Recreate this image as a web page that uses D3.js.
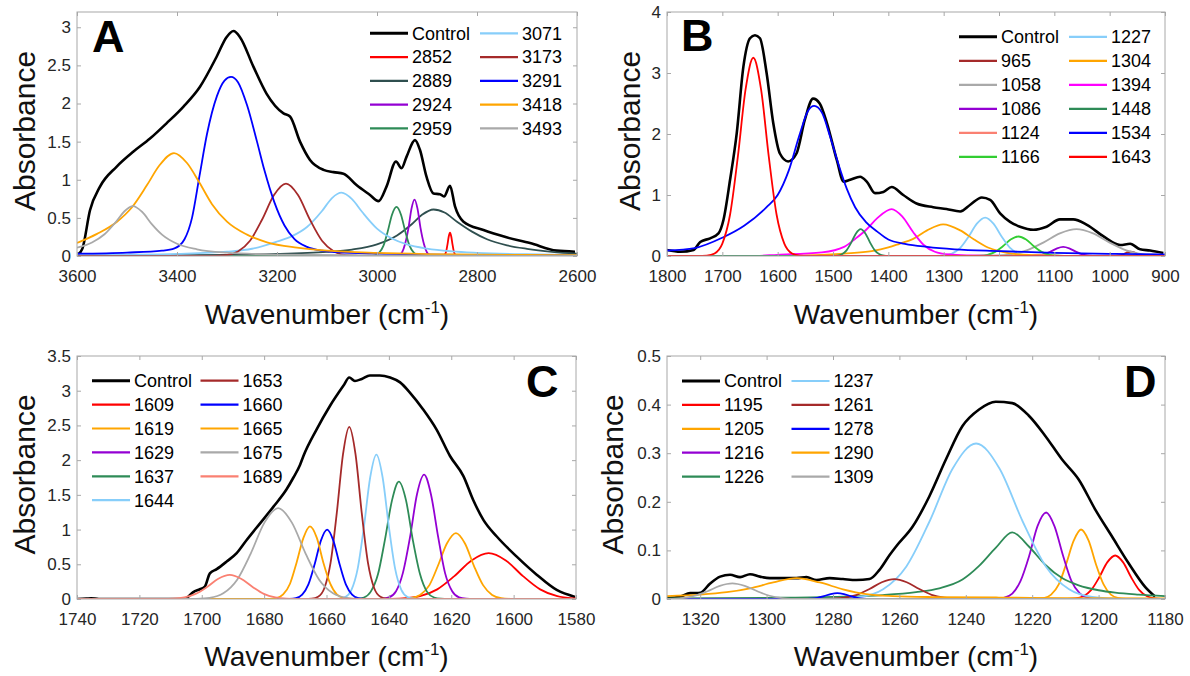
<!DOCTYPE html>
<html>
<head>
<meta charset="utf-8">
<script src="https://cdn.jsdelivr.net/npm/d3@7"></script>
<style>
  body { margin: 0; background: #fff; }
  svg { font-family: "Liberation Sans", Arial, Helvetica, sans-serif; }
</style>
</head>
<body>
<svg id="chart" width="1190" height="676"></svg>
<script>
// ---------- Panel A (3600-2600 cm-1) ----------
const xTicksA = [3600, 3400, 3200, 3000, 2800, 2600];
const yTicksA = [0, 0.5, 1, 1.5, 2, 2.5, 3];
const peaksA = ["2852", "2889", "2924", "2959", "3071", "3173", "3291", "3418", "3493"];
const controlA = [[3598,0.02],[3589,0.1],[3574,0.6],[3554,0.91],[3521,1.17],[3487,1.37],[3454,1.54],[3421,1.74],[3387,1.96],[3354,2.22],[3321,2.61],[3301,2.87],[3287,2.95],[3274,2.87],[3247,2.48],[3221,2.13],[3187,1.87],[3174,1.83],[3154,1.5],[3134,1.26],[3107,1.13],[3087,1.1],[3067,1.08],[3041,0.93],[3014,0.8],[2997,0.72],[2981,0.91],[2962,1.24],[2951,1.15],[2941,1.3],[2924,1.52],[2914,1.39],[2901,1.04],[2887,0.82],[2874,0.81],[2866,0.78],[2854,0.92],[2844,0.65],[2827,0.45],[2787,0.34],[2741,0.245],[2694,0.17],[2641,0.07],[2604,0.056]];
const componentsA = [
  [[3600,0],[2870,0],[2866.5,0.004],[2864,0.019],[2861.5,0.064],[2859,0.153],[2856.5,0.256],[2854,0.305],[2851.5,0.256],[2849,0.153],[2846.5,0.064],[2844,0.019],[2841.5,0.004],[2838,0],[2600,0]],
  [[3600,0.005],[3400,0.01],[3200,0.026],[3100,0.053],[3050,0.085],[3000,0.153],[2960,0.27],[2930,0.42],[2910,0.54],[2887,0.61],[2865,0.57],[2840,0.45],[2810,0.32],[2780,0.22],[2740,0.14],[2700,0.094],[2650,0.055],[2600,0.03]],
  [[3600,0],[2965,0],[2962,0.0015],[2956,0.0096],[2950,0.046],[2944,0.155],[2937,0.37],[2931,0.622],[2925,0.74],[2919,0.622],[2913,0.37],[2906,0.155],[2900,0.046],[2894,0.0096],[2888,0.0015],[2885,0],[2600,0]],
  [[3600,0],[3015,0],[3013,0.0013],[3005,0.0084],[2996,0.04],[2987,0.135],[2978.5,0.323],[2970,0.542],[2961,0.645],[2952,0.542],[2943.5,0.323],[2935,0.135],[2926,0.04],[2917,0.0084],[2908,0.0013],[2905,0],[2600,0]],
  [[3600,0.011],[3500,0.017],[3400,0.028],[3300,0.057],[3250,0.095],[3200,0.19],[3170,0.26],[3140,0.38],[3110,0.59],[3090,0.76],[3071,0.83],[3050,0.745],[3030,0.58],[3000,0.36],[2970,0.23],[2940,0.152],[2900,0.097],[2850,0.061],[2800,0.042],[2700,0.023],[2600,0.014]],
  [[3600,0],[3330,0],[3326,0.002],[3302,0.012],[3278,0.06],[3254,0.2],[3230,0.475],[3206,0.8],[3182,0.95],[3158,0.8],[3134,0.475],[3110,0.2],[3086,0.06],[3062,0.012],[3038,0.002],[3030,0],[2600,0]],
  [[3600,0.03],[3500,0.045],[3430,0.07],[3405,0.1],[3385,0.22],[3370,0.5],[3355,1.05],[3340,1.6],[3320,2.1],[3305,2.3],[3292,2.35],[3278,2.28],[3260,1.98],[3240,1.5],[3225,1.12],[3205,0.7],[3185,0.4],[3165,0.22],[3140,0.12],[3110,0.07],[3080,0.05],[3000,0.03],[2800,0.012],[2600,0.005]],
  [[3600,0.17],[3560,0.29],[3520,0.45],[3490,0.64],[3460,0.93],[3435,1.19],[3406,1.35],[3380,1.22],[3355,0.96],[3330,0.68],[3300,0.45],[3260,0.28],[3220,0.18],[3160,0.11],[3100,0.07],[3000,0.04],[2900,0.025],[2800,0.018],[2700,0.013],[2600,0.01]],
  [[3600,0.109],[3570,0.178],[3545,0.285],[3520,0.465],[3505,0.587],[3488,0.655],[3470,0.58],[3450,0.415],[3430,0.28],[3400,0.16],[3360,0.087],[3300,0.043],[3200,0.019],[3000,0.007],[2800,0.003],[2600,0.002]]
];

// ---------- Panel B (1800-900 cm-1) ----------
const xTicksB = [1800, 1700, 1600, 1500, 1400, 1300, 1200, 1100, 1000, 900];
const yTicksB = [0, 1, 2, 3, 4];
const peaksB = ["965", "1058", "1086", "1124", "1166", "1227", "1304", "1394", "1448", "1534", "1643"];
const controlB = [[1800,0.1],[1776,0.07],[1752,0.1],[1740,0.23],[1722,0.29],[1707,0.37],[1698,0.59],[1686,1.25],[1674,2.01],[1662,3.1],[1650,3.57],[1641,3.62],[1632,3.57],[1620,3.0],[1608,2.18],[1596,1.68],[1581,1.55],[1566,1.68],[1551,2.23],[1536,2.58],[1524,2.5],[1511,2.18],[1493,1.57],[1481,1.22],[1469,1.25],[1451,1.3],[1439,1.22],[1424,1.03],[1409,1.05],[1394,1.13],[1373,1.0],[1349,0.86],[1319,0.8],[1295,0.77],[1270,0.73],[1252,0.84],[1231,0.96],[1216,0.92],[1198,0.7],[1180,0.56],[1162,0.48],[1138,0.43],[1114,0.48],[1090,0.6],[1066,0.6],[1041,0.51],[1011,0.32],[981,0.18],[963,0.2],[945,0.11],[927,0.09],[903,0.05]];
const componentsB = [
  [[1800,0],[1000,0],[992,0.0009],[986,0.0044],[980,0.0147],[974,0.035],[968,0.059],[962,0.07],[956,0.059],[950,0.035],[944,0.0147],[938,0.0044],[932,0.0009],[925,0],[900,0]],
  [[1800,0],[1250,0],[1240,0.0009],[1210,0.0057],[1180,0.0275],[1150,0.092],[1120,0.22],[1090,0.37],[1060,0.44],[1030,0.37],[1000,0.22],[970,0.092],[940,0.0275],[910,0.0057],[900,0.003]],
  [[1800,0],[1145,0],[1139,0.002],[1128,0.0094],[1117,0.0315],[1106,0.075],[1095,0.126],[1084,0.15],[1073,0.126],[1062,0.075],[1051,0.0315],[1040,0.0094],[1029,0.002],[1020,0],[900,0]],
  [[1800,0],[1175,0],[1164,0.0012],[1154,0.0042],[1144,0.01],[1134,0.017],[1124,0.02],[1114,0.017],[1104,0.01],[1094,0.0042],[1084,0.0012],[1075,0],[900,0]],
  [[1800,0],[1255,0],[1249,0.0006],[1235,0.0042],[1221,0.02],[1207,0.067],[1193,0.16],[1179,0.269],[1165,0.32],[1151,0.269],[1137,0.16],[1123,0.067],[1109,0.02],[1095,0.0042],[1081,0.0006],[1075,0],[900,0]],
  [[1800,0],[1320,0],[1315,0.0013],[1300,0.0082],[1285,0.039],[1270,0.132],[1255,0.315],[1240,0.53],[1225,0.63],[1210,0.53],[1195,0.315],[1180,0.132],[1165,0.039],[1150,0.0082],[1135,0.0013],[1130,0],[900,0]],
  [[1800,0],[1600,0.003],[1550,0.01],[1480,0.04],[1430,0.08],[1400,0.14],[1380,0.2],[1355,0.28],[1330,0.42],[1301,0.52],[1270,0.42],[1245,0.27],[1220,0.14],[1200,0.08],[1170,0.03],[1130,0.01],[1080,0.002],[1050,0],[900,0]],
  [[1800,0],[1650,0],[1600,0.02],[1520,0.06],[1480,0.15],[1460,0.28],[1440,0.43],[1420,0.62],[1394,0.77],[1375,0.65],[1355,0.39],[1336,0.18],[1316,0.07],[1290,0.025],[1250,0.008],[1200,0],[900,0]],
  [[1800,0],[1505,0],[1501,0.0009],[1492.5,0.0057],[1484,0.0275],[1475.5,0.092],[1467,0.22],[1458.5,0.37],[1450,0.44],[1441.5,0.37],[1433,0.22],[1424.5,0.092],[1416,0.0275],[1407.5,0.0057],[1399,0.0009],[1395,0],[900,0]],
  [[1800,0.09],[1750,0.13],[1700,0.3],[1660,0.5],[1620,0.8],[1600,1.0],[1580,1.4],[1560,2.0],[1545,2.38],[1534,2.46],[1520,2.35],[1505,1.95],[1490,1.5],[1475,1.1],[1460,0.8],[1440,0.55],[1420,0.4],[1400,0.27],[1370,0.2],[1330,0.15],[1280,0.11],[1200,0.08],[1100,0.05],[1000,0.035],[900,0.025]],
  [[1800,0],[1745,0],[1728,0.0065],[1714,0.042],[1700,0.203],[1686,0.68],[1672,1.625],[1658,2.73],[1644,3.25],[1630,2.73],[1616,1.625],[1602,0.68],[1588,0.203],[1574,0.042],[1560,0.0065],[1545,0],[900,0]]
];

// ---------- Panel C (1740-1580 cm-1) ----------
const xTicksC = [1740, 1720, 1700, 1680, 1660, 1640, 1620, 1600, 1580];
const yTicksC = [0, 0.5, 1, 1.5, 2, 2.5, 3, 3.5];
const peaksC = ["1609", "1619", "1629", "1637", "1644", "1653", "1660", "1665", "1675", "1689"];
const controlC = [[1740,0],[1737,0.005],[1735.5,0.01],[1733,0],[1705,0],[1704.8,0.01],[1702.7,0.1],[1700.6,0.14],[1699,0.18],[1697.4,0.37],[1695.2,0.43],[1692,0.54],[1688.8,0.66],[1685.6,0.85],[1681.3,1.09],[1677,1.33],[1672.8,1.58],[1670.6,1.75],[1668.5,1.93],[1667.4,2.06],[1663.2,2.44],[1658.9,2.78],[1654.6,3.07],[1652.7,3.19],[1650.9,3.14],[1648.7,3.17],[1646.1,3.22],[1642.9,3.22],[1639.6,3.19],[1636.4,3.12],[1633.2,2.97],[1629,2.73],[1624.7,2.44],[1620.4,2.06],[1616.1,1.77],[1613,1.43],[1609.7,1.14],[1605.4,0.9],[1599,0.61],[1592.6,0.35],[1586.2,0.13],[1580.3,0.03]];
const componentsC = [
  [[1740,0],[1645,0],[1641,0.0013],[1635.5,0.0086],[1630,0.041],[1624.5,0.139],[1619,0.33],[1613.5,0.555],[1608,0.66],[1602.5,0.555],[1597,0.33],[1591.5,0.139],[1586,0.041],[1580.5,0.0086],[1580,0.007]],
  [[1740,0],[1638,0],[1636,0.0019],[1633,0.0124],[1630,0.059],[1627,0.2],[1624.3,0.475],[1621.4,0.8],[1618.5,0.95],[1615.6,0.8],[1612.7,0.475],[1609.8,0.2],[1606.9,0.059],[1604,0.0124],[1601,0.0019],[1599,0],[1580,0]],
  [[1740,0],[1644,0],[1642.2,0.0036],[1640,0.023],[1637.7,0.112],[1635.5,0.376],[1633.2,0.895],[1631,1.505],[1628.7,1.79],[1626.5,1.505],[1624.2,0.895],[1622,0.376],[1619.7,0.112],[1617.5,0.023],[1615.2,0.0036],[1613,0],[1580,0]],
  [[1740,0],[1652,0],[1650.3,0.0034],[1648,0.022],[1645.8,0.106],[1643.5,0.355],[1641.3,0.845],[1639,1.42],[1636.8,1.69],[1634.5,1.42],[1632.3,0.845],[1630,0.355],[1627.8,0.106],[1625.5,0.022],[1623.3,0.0034],[1621,0],[1580,0]],
  [[1740,0],[1658,0],[1656,0.004],[1654,0.027],[1652,0.13],[1650,0.437],[1648,1.04],[1646,1.75],[1644,2.08],[1642,1.75],[1640,1.04],[1638,0.437],[1636,0.13],[1634,0.027],[1632,0.004],[1630,0],[1580,0]],
  [[1740,0],[1667,0],[1664.7,0.005],[1662.7,0.032],[1660.7,0.155],[1658.7,0.52],[1656.7,1.24],[1654.7,2.086],[1652.7,2.48],[1650.7,2.086],[1648.7,1.24],[1646.7,0.52],[1644.7,0.155],[1642.7,0.032],[1640.7,0.005],[1638,0],[1580,0]],
  [[1740,0],[1674,0],[1671.8,0.002],[1669.8,0.013],[1667.8,0.0625],[1665.8,0.21],[1663.8,0.5],[1661.8,0.841],[1659.8,1.0],[1657.8,0.841],[1655.8,0.5],[1653.8,0.21],[1651.8,0.0625],[1649.8,0.013],[1647.8,0.002],[1645,0],[1580,0]],
  [[1740,0],[1681,0],[1678.2,0.002],[1676,0.0136],[1673.9,0.065],[1671.7,0.22],[1669.6,0.523],[1667.4,0.88],[1665.3,1.046],[1663.1,0.88],[1661,0.523],[1658.8,0.22],[1656.7,0.065],[1654.5,0.0136],[1652.4,0.002],[1650,0],[1580,0]],
  [[1740,0],[1705,0],[1701.9,0.0026],[1697.5,0.017],[1693.1,0.082],[1688.7,0.275],[1684.3,0.655],[1679.9,1.1],[1675.5,1.31],[1671.1,1.1],[1666.7,0.655],[1662.3,0.275],[1657.9,0.082],[1653.5,0.017],[1649.1,0.0026],[1645,0],[1580,0]],
  [[1740,0],[1715,0],[1712.9,0.0007],[1709.3,0.0045],[1705.6,0.0217],[1702,0.073],[1698.3,0.174],[1694.7,0.292],[1691,0.347],[1687.4,0.292],[1683.7,0.174],[1680.1,0.073],[1676.4,0.0217],[1672.8,0.0045],[1669.1,0.0007],[1665,0],[1580,0]]
];

// ---------- Panel D (1330-1180 cm-1) ----------
const xTicksD = [1320, 1300, 1280, 1260, 1240, 1220, 1200, 1180];
const yTicksD = [0, 0.1, 0.2, 0.3, 0.4, 0.5];
const peaksD = ["1195", "1205", "1216", "1226", "1237", "1261", "1278", "1290", "1309"];
const controlD = [[1330,0.0015],[1326,0.005],[1323,0.012],[1320,0.013],[1317,0.032],[1314,0.046],[1311,0.05],[1308,0.045],[1305,0.051],[1302,0.046],[1299,0.043],[1295,0.043],[1291,0.043],[1288,0.045],[1285,0.039],[1281,0.043],[1277,0.041],[1273,0.039],[1269,0.041],[1266,0.06],[1263,0.09],[1261,0.108],[1256,0.149],[1251,0.211],[1246,0.287],[1241,0.356],[1236,0.39],[1231,0.406],[1226,0.403],[1221,0.377],[1216,0.335],[1211,0.287],[1206,0.246],[1201,0.184],[1196,0.129],[1191,0.074],[1186,0.025],[1183,0.005]];
const componentsD = [
  [[1330,0],[1212,0],[1209.4,0.0002],[1207,0.0012],[1204.6,0.0056],[1202.2,0.0188],[1199.8,0.0448],[1197.4,0.0753],[1195,0.0895],[1192.6,0.0753],[1190.2,0.0448],[1187.8,0.0188],[1185.4,0.0056],[1183,0.0012],[1180.6,0.0002],[1180,0]],
  [[1330,0],[1221,0],[1218.8,0.0003],[1216.5,0.0019],[1214.3,0.0089],[1212,0.03],[1209.8,0.0715],[1207.5,0.12],[1205.3,0.143],[1203,0.12],[1200.8,0.0715],[1198.5,0.03],[1196.3,0.0089],[1194,0.0019],[1191.8,0.0003],[1189,0],[1180,0]],
  [[1330,0],[1234,0],[1231.1,0.0004],[1228.6,0.0023],[1226,0.0111],[1223.5,0.0374],[1220.9,0.089],[1218.4,0.15],[1215.8,0.178],[1213.3,0.15],[1210.7,0.089],[1208.2,0.0374],[1205.6,0.0111],[1203.1,0.0023],[1200.5,0.0004],[1198,0],[1180,0]],
  [[1330,0.0013],[1300,0.0025],[1280,0.0045],[1265,0.008],[1255,0.014],[1248,0.022],[1241,0.04],[1236,0.068],[1231,0.105],[1226,0.137],[1221,0.108],[1216,0.07],[1211,0.043],[1206,0.028],[1200,0.018],[1195,0.013],[1188,0.009],[1180,0.006]],
  [[1330,0],[1283,0],[1278.9,0.0006],[1271.9,0.0042],[1264.9,0.02],[1257.9,0.067],[1250.9,0.16],[1243.9,0.269],[1236.9,0.32],[1229.9,0.269],[1222.9,0.16],[1215.9,0.067],[1208.9,0.02],[1201.9,0.0042],[1194.9,0.0006],[1190,0],[1180,0]],
  [[1330,0],[1284,0],[1280.3,0.0005],[1276.5,0.0026],[1272.8,0.0086],[1269,0.0205],[1265.3,0.0345],[1261.5,0.041],[1257.8,0.0345],[1254,0.0205],[1250.3,0.0086],[1246.5,0.0026],[1242.8,0.0005],[1239,0],[1180,0]],
  [[1330,0],[1291,0],[1288.7,0.00016],[1286.7,0.00075],[1284.7,0.0025],[1282.7,0.006],[1280.7,0.0101],[1278.7,0.012],[1276.7,0.0101],[1274.7,0.006],[1272.7,0.0025],[1270.7,0.00075],[1268.7,0.00016],[1266,0],[1180,0]],
  [[1330,0.006],[1320,0.009],[1312,0.014],[1305,0.022],[1298,0.034],[1291,0.043],[1284,0.034],[1277,0.02],[1270,0.01],[1262,0.006],[1250,0.004],[1230,0.003],[1210,0.002],[1180,0.001]],
  [[1330,0.0003],[1325.3,0.002],[1321.6,0.0067],[1317.8,0.016],[1314.1,0.0269],[1310.3,0.032],[1306.6,0.0269],[1302.8,0.016],[1299.1,0.0067],[1295.3,0.002],[1291.6,0.0004],[1288,0],[1180,0]]
];

// line colours (style, kept apart from the values)
const RED = "#ff0000", ORANGE = "#ffa500", VIOLET = "#9400d3", SEA = "#2e8b57",
      SKY = "#87cefa", BROWN = "#a52a2a", BLUE = "#0000ff", GRAY = "#a9a9a9",
      SLATE = "#2f4f4f", SALMON = "#fa8072", LIME = "#32cd32", MAGENTA = "#ff00ff";
const colorsA = [RED, SLATE, VIOLET, SEA, SKY, BROWN, BLUE, ORANGE, GRAY];
const colorsB = [BROWN, GRAY, VIOLET, SALMON, LIME, SKY, ORANGE, MAGENTA, SEA, BLUE, RED];
const colorsC = [RED, ORANGE, VIOLET, SEA, SKY, BROWN, BLUE, ORANGE, GRAY, SALMON];
const colorsD = [RED, ORANGE, VIOLET, SEA, SKY, BROWN, BLUE, ORANGE, GRAY];

const svg = d3.select("#chart");
const AXIS_GRAY = "#a8a8a8";
const TEXT_GRAY = "#262626";

function renderPanel(p) {
  const x = d3.scaleLinear().domain(p.xDomain).range([p.left, p.right]);
  const y = d3.scaleLinear().domain(p.yDomain).range([p.bottom, p.top]);
  const g = svg.append("g");

  svg.append("clipPath").attr("id", "clip" + p.letter)
    .append("rect")
      .attr("x", p.left).attr("y", p.top - 1)
      .attr("width", p.right - p.left).attr("height", p.bottom - p.top + 1);

  const line = d3.line()
    .x(d => x(d[0]))
    .y(d => y(d[1]))
    .curve(d3.curveMonotoneX);

  const plot = g.append("g").attr("clip-path", `url(#clip${p.letter})`);
  plot.append("path")
    .datum(p.control)
    .attr("fill", "none")
    .attr("stroke", "#000")
    .attr("stroke-width", 2.6)
    .attr("stroke-linejoin", "round")
    .attr("d", line);
  plot.selectAll("path.comp")
    .data(p.components)
    .join("path")
      .attr("class", "comp")
      .attr("fill", "none")
      .attr("stroke", (d, i) => p.colors[i])
      .attr("stroke-width", 1.8)
      .attr("d", line);

  // axes: inward ticks on all four sides
  const fmt = d => String(d);
  const bottomAx = g.append("g")
    .attr("transform", `translate(0,${p.bottom})`)
    .call(d3.axisBottom(x).tickValues(p.xTicks).tickFormat(fmt)
      .tickSizeInner(-4).tickSizeOuter(0).tickPadding(14));
  const leftAx = g.append("g")
    .attr("transform", `translate(${p.left},0)`)
    .call(d3.axisLeft(y).tickValues(p.yTicks).tickFormat(fmt)
      .tickSizeInner(-4).tickSizeOuter(0).tickPadding(6));
  const topAx = g.append("g")
    .attr("transform", `translate(0,${p.top})`)
    .call(d3.axisTop(x).tickValues(p.xTicks).tickFormat("")
      .tickSizeInner(-4).tickSizeOuter(0));
  const rightAx = g.append("g")
    .attr("transform", `translate(${p.right},0)`)
    .call(d3.axisRight(y).tickValues(p.yTicks).tickFormat("")
      .tickSizeInner(-4).tickSizeOuter(0));
  [bottomAx, leftAx, topAx, rightAx].forEach(a => {
    a.select(".domain").remove();
    a.selectAll(".tick line").attr("stroke", AXIS_GRAY);
    a.selectAll(".tick text")
      .attr("fill", TEXT_GRAY)
      .attr("font-size", 17)
      .attr("font-family", "Liberation Sans, Arial, sans-serif");
  });
  g.append("rect")
    .attr("x", p.left).attr("y", p.top)
    .attr("width", p.right - p.left).attr("height", p.bottom - p.top)
    .attr("fill", "none")
    .attr("stroke", AXIS_GRAY)
    .attr("stroke-width", 1);

  // axis titles
  g.append("text")
    .attr("transform", `translate(${p.yLabelX},${(p.top + p.bottom) / 2 - 3}) rotate(-90)`)
    .attr("text-anchor", "middle")
    .attr("font-size", 30)
    .attr("fill", "#111")
    .text("Absorbance");
  const xl = g.append("text")
    .attr("x", (p.left + p.right) / 2)
    .attr("y", p.bottom + p.xLabelGap)
    .attr("text-anchor", "middle")
    .attr("font-size", 28)
    .attr("fill", "#111");
  xl.append("tspan").text("Wavenumber (cm");
  xl.append("tspan").attr("font-size", 17).attr("dy", -11).text("-1");
  xl.append("tspan").attr("dy", 11).text(")");

  // panel letter
  g.append("text")
    .attr("x", p.letterX).attr("y", p.letterY)
    .attr("font-size", 45)
    .attr("font-weight", "bold")
    .attr("fill", "#000")
    .text(p.letter);

  // legend, two columns, filled column by column
  const items = ["Control"].concat(p.labels);
  const itemColors = ["#000"].concat(p.colors);
  const lg = g.append("g");
  items.forEach((name, i) => {
    const col = Math.floor(i / p.legendRows);
    const row = i % p.legendRows;
    const lx = p.legendX + col * p.legendColGap;
    const ly = p.legendY + row * p.legendRowGap;
    lg.append("line")
      .attr("x1", lx).attr("x2", lx + 38)
      .attr("y1", ly).attr("y2", ly)
      .attr("stroke", itemColors[i])
      .attr("stroke-width", i === 0 ? 3 : 2.2);
    lg.append("text")
      .attr("x", lx + 42).attr("y", ly)
      .attr("dy", "0.35em")
      .attr("font-size", 18)
      .attr("fill", "#000")
      .text(name);
  });
}

renderPanel({
  letter: "A", labels: peaksA, control: controlA, components: componentsA, colors: colorsA,
  xDomain: [3600, 2600], yDomain: [0, 3.2], xTicks: xTicksA, yTicks: yTicksA,
  left: 77, right: 577, top: 12, bottom: 256,
  yLabelX: 35, xLabelGap: 68, letterX: 92, letterY: 52,
  legendX: 370, legendY: 33.3, legendRows: 5, legendColGap: 110, legendRowGap: 23.75
});
renderPanel({
  letter: "B", labels: peaksB, control: controlB, components: componentsB, colors: colorsB,
  xDomain: [1800, 900], yDomain: [0, 4], xTicks: xTicksB, yTicks: yTicksB,
  left: 667, right: 1165, top: 12, bottom: 256,
  yLabelX: 640, xLabelGap: 68, letterX: 681, letterY: 51,
  legendX: 959, legendY: 36.8, legendRows: 6, legendColGap: 110, legendRowGap: 24
});
renderPanel({
  letter: "C", labels: peaksC, control: controlC, components: componentsC, colors: colorsC,
  xDomain: [1740, 1580], yDomain: [0, 3.5], xTicks: xTicksC, yTicks: yTicksC,
  left: 77, right: 576, top: 356, bottom: 599,
  yLabelX: 35, xLabelGap: 67, letterX: 526, letterY: 397,
  legendX: 92, legendY: 380.7, legendRows: 6, legendColGap: 108.5, legendRowGap: 23.9
});
renderPanel({
  letter: "D", labels: peaksD, control: controlD, components: componentsD, colors: colorsD,
  xDomain: [1330, 1180], yDomain: [0, 0.5], xTicks: xTicksD, yTicks: yTicksD,
  left: 667, right: 1165, top: 356, bottom: 599,
  yLabelX: 623, xLabelGap: 67, letterX: 1124, letterY: 397,
  legendX: 682, legendY: 381, legendRows: 5, legendColGap: 109.5, legendRowGap: 23.9
});
</script>
</body>
</html>
